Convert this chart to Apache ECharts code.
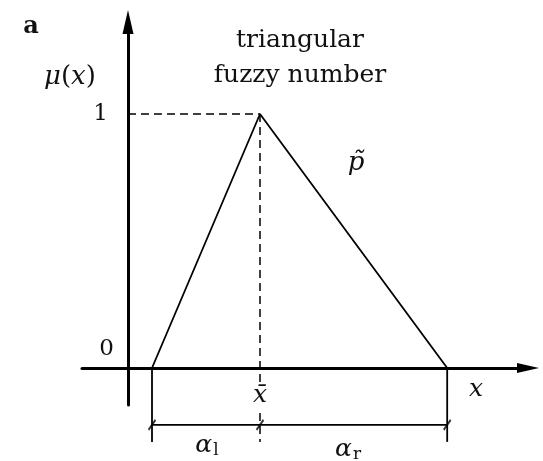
<!DOCTYPE html>
<html>
<head>
<meta charset="utf-8">
<script src="https://cdn.jsdelivr.net/npm/echarts@6/dist/echarts.min.js"></script>
<style>
html, body { margin: 0; padding: 0; background: #fff; }
#chart { width: 543px; height: 461px; }
</style>
</head>
<body>
<div id="chart"></div>
<script>
// triangle: left foot, peak (x bar), right foot
var triX = [1, 5.5, 13.3];
var triY = [0, 1, 0];
// axis tick labels
var yTickValues = [0, 1];
var yTickLabels = ['0', '1'];
var xTickValues = [5.5];
var xTickLabels = ['x\u0304'];
// levels under the x axis: dimension line, end of extension lines
var dimLevel = -0.224;
var extLevel = -0.291;
// texts
var panelLabel = 'a';
var titleLines = ['triangular', 'fuzzy number'];
var curveLabel = 'p\u0303';
var spreadNames = ['l', 'r'];

var serif = 'DejaVu Serif';
var black = '#000';
var dashed = { color: black, width: 1.5, type: [8, 5] };
var thin = { color: black, width: 1.8 };

var chart = echarts.init(document.getElementById('chart'));

var tri = triX.map(function (x, i) { return [x, triY[i]]; });

function seg(p, q, style) {
    return {
        type: 'line', data: [p, q], symbol: 'none', clip: false,
        lineStyle: style, silent: true
    };
}

var series = [
    { type: 'line', data: tri, symbol: 'none', clip: false, lineStyle: thin, z: 3 },
    seg([0, 1], [triX[1], 1], dashed),
    seg([triX[1], 1], [triX[1], extLevel], dashed),
    seg([triX[0], 0], [triX[0], extLevel], thin),
    seg([triX[2], 0], [triX[2], extLevel], thin),
    seg([triX[0], dimLevel], [triX[2], dimLevel], thin),
    {
        type: 'scatter', clip: false, silent: true,
        data: triX.map(function (x) { return [x, dimLevel]; }),
        symbol: 'path://M0,10L7,0', symbolSize: [7, 10],
        itemStyle: { color: 'none', borderColor: black, borderWidth: 2 }
    }
];

chart.setOption({
    animation: false,
    grid: { left: 82, right: 15, top: 22, bottom: 56 },
    xAxis: {
        type: 'value', min: -1.9167, max: 16.667, z: 5,
        axisLine: {
            onZero: true, symbol: ['none', 'triangle'], symbolSize: [10, 22],
            lineStyle: { color: black, width: 3 }
        },
        axisTick: { show: false },
        splitLine: { show: false },
        axisLabel: {
            customValues: xTickValues,
            formatter: function (v) { return xTickLabels[xTickValues.indexOf(v)]; },
            margin: -22,
            color: '#111', fontFamily: serif, fontStyle: 'italic', fontSize: 25,
            backgroundColor: '#fff', padding: [0, 1, 0, 1]
        }
    },
    yAxis: {
        type: 'value', min: -0.1457, max: 1.3622,
        axisLine: {
            onZero: true, symbol: ['none', 'triangle'], symbolSize: [11, 24],
            lineStyle: { color: black, width: 3 }
        },
        axisTick: { show: false },
        splitLine: { show: false },
        axisLabel: {
            customValues: yTickValues,
            margin: -32,
            fontFamily: serif, fontSize: 23, color: '#111',
            formatter: function (v) {
                var i = yTickValues.indexOf(v);
                return (i === 0 ? '{lo|' : '{hi|') + yTickLabels[i] + '}';
            },
            rich: {
                lo: { fontFamily: serif, fontSize: 23, color: '#111', padding: [0, 0, 38, 0] },
                hi: { fontFamily: serif, fontSize: 23, color: '#111', padding: [0, 6, 0, 0] }
            }
        }
    },
    series: series,
    graphic: [
        { type: 'text', style: { x: 31, y: 27, text: panelLabel, font: 'bold 24px "DejaVu Serif"', fill: '#111', align: 'center', verticalAlign: 'middle' } },
        { type: 'text', style: { x: 300, y: 58, text: titleLines.join('\n'), font: '25px "DejaVu Serif"', lineHeight: 35, fill: '#111', align: 'center', verticalAlign: 'middle' } },
        { type: 'text', style: {
            x: 70, y: 77, align: 'center', verticalAlign: 'middle',
            text: '{i|\u03bc}{u|(}{i|x}{u|)}',
            rich: {
                i: { fontFamily: serif, fontStyle: 'italic', fontSize: 26, fill: '#111' },
                u: { fontFamily: serif, fontSize: 26, fill: '#111' }
            }
        } },
        { type: 'text', style: { x: 476, y: 389, text: 'x', font: 'italic 25px "DejaVu Serif"', fill: '#111', align: 'center', verticalAlign: 'middle' } },
        { type: 'text', style: { x: 356, y: 163, text: curveLabel, font: 'italic 26px "DejaVu Serif"', fill: '#111', align: 'center', verticalAlign: 'middle' } },
        { type: 'text', style: {
            x: 207, y: 445, align: 'center', verticalAlign: 'middle',
            text: '{g|\u03b1}{s|' + spreadNames[0] + '}',
            rich: {
                g: { fontFamily: serif, fontStyle: 'italic', fontSize: 25, fill: '#111' },
                s: { fontFamily: serif, fontSize: 17, fill: '#111', padding: [12, 0, 0, 1] }
            }
        } },
        { type: 'text', style: {
            x: 348, y: 449, align: 'center', verticalAlign: 'middle',
            text: '{g|\u03b1}{s|' + spreadNames[1] + '}',
            rich: {
                g: { fontFamily: serif, fontStyle: 'italic', fontSize: 25, fill: '#111' },
                s: { fontFamily: serif, fontSize: 17, fill: '#111', padding: [12, 0, 0, 1] }
            }
        } }
    ]
});
</script>
</body>
</html>
